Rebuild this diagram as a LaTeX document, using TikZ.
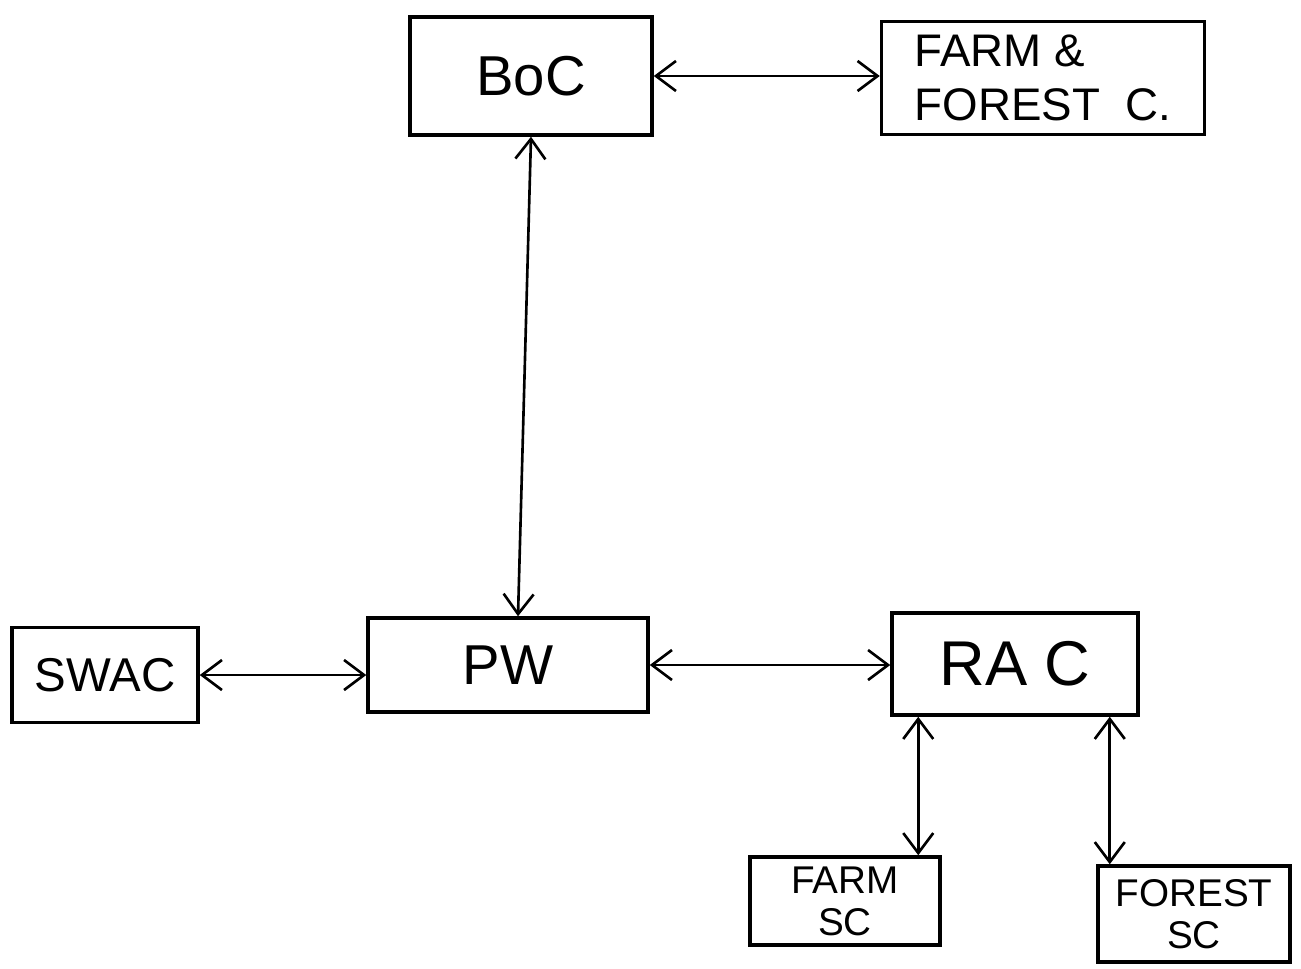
\documentclass[tikz,border=0pt]{standalone}
\usepackage{fontspec}
\setmainfont{Liberation Sans}
\usetikzlibrary{arrows.meta, positioning, calc}

\begin{document}
\begin{tikzpicture}[
    x=0.2mm, y=-0.2mm,
    box/.style={rectangle, draw, line width=2pt, inner sep=0pt},
    link/.style={line width=1.5pt, {Straight Barb[length=4mm, width=6mm]}-{Straight Barb[length=4mm, width=6mm]}},
    big/.style={font=\fontsize{32}{36}\selectfont},
    mid/.style={font=\fontsize{26}{31}\selectfont, align=left},
    small/.style={font=\fontsize{22}{24}\selectfont, align=center},
]
\useasboundingbox (0,0) rectangle (1301,968);

% top row
\node[box, big, minimum width=242*0.2mm, minimum height=118*0.2mm] (boc) at (531,76) {BoC};
\node[box, mid, minimum width=323*0.2mm, minimum height=113*0.2mm] (ffc) at (1043,78) {FARM \&\\FOREST\ \ C.};

% middle row
\node[box, font=\fontsize{27}{30}\selectfont, minimum width=186*0.2mm, minimum height=95*0.2mm] (swac) at (105,675) {SWAC};
\node[box, big, minimum width=280*0.2mm, minimum height=94*0.2mm] (pw) at (508,665) {PW};
\node[box, font=\fontsize{36}{40}\selectfont, minimum width=246*0.2mm, minimum height=102*0.2mm] (rac) at (1015,664) {RA C};

% sub committees
\node[box, small, minimum width=190*0.2mm, minimum height=88*0.2mm] (farmsc) at (845,901) {FARM\\SC};
\node[box, small, minimum width=192*0.2mm, minimum height=96*0.2mm] (forestsc) at (1194,914) {FOREST\\SC};

% links
\draw[link] (boc.east) -- (ffc.west |- boc.east);
\draw[link] (boc.south) -- ([xshift=2mm]pw.north);
\draw[link] (swac.east) -- (swac.east -| pw.west);
\draw[link] (pw.east) -- (rac.west |- pw.east);
\coordinate (r1) at ([xshift=5.6mm]rac.south west);
\coordinate (r2) at ([xshift=-6mm]rac.south east);
\draw[link] (r1) -- (r1 |- farmsc.north);
\draw[link] (r2) -- (r2 |- forestsc.north);

\end{tikzpicture}
\end{document}
